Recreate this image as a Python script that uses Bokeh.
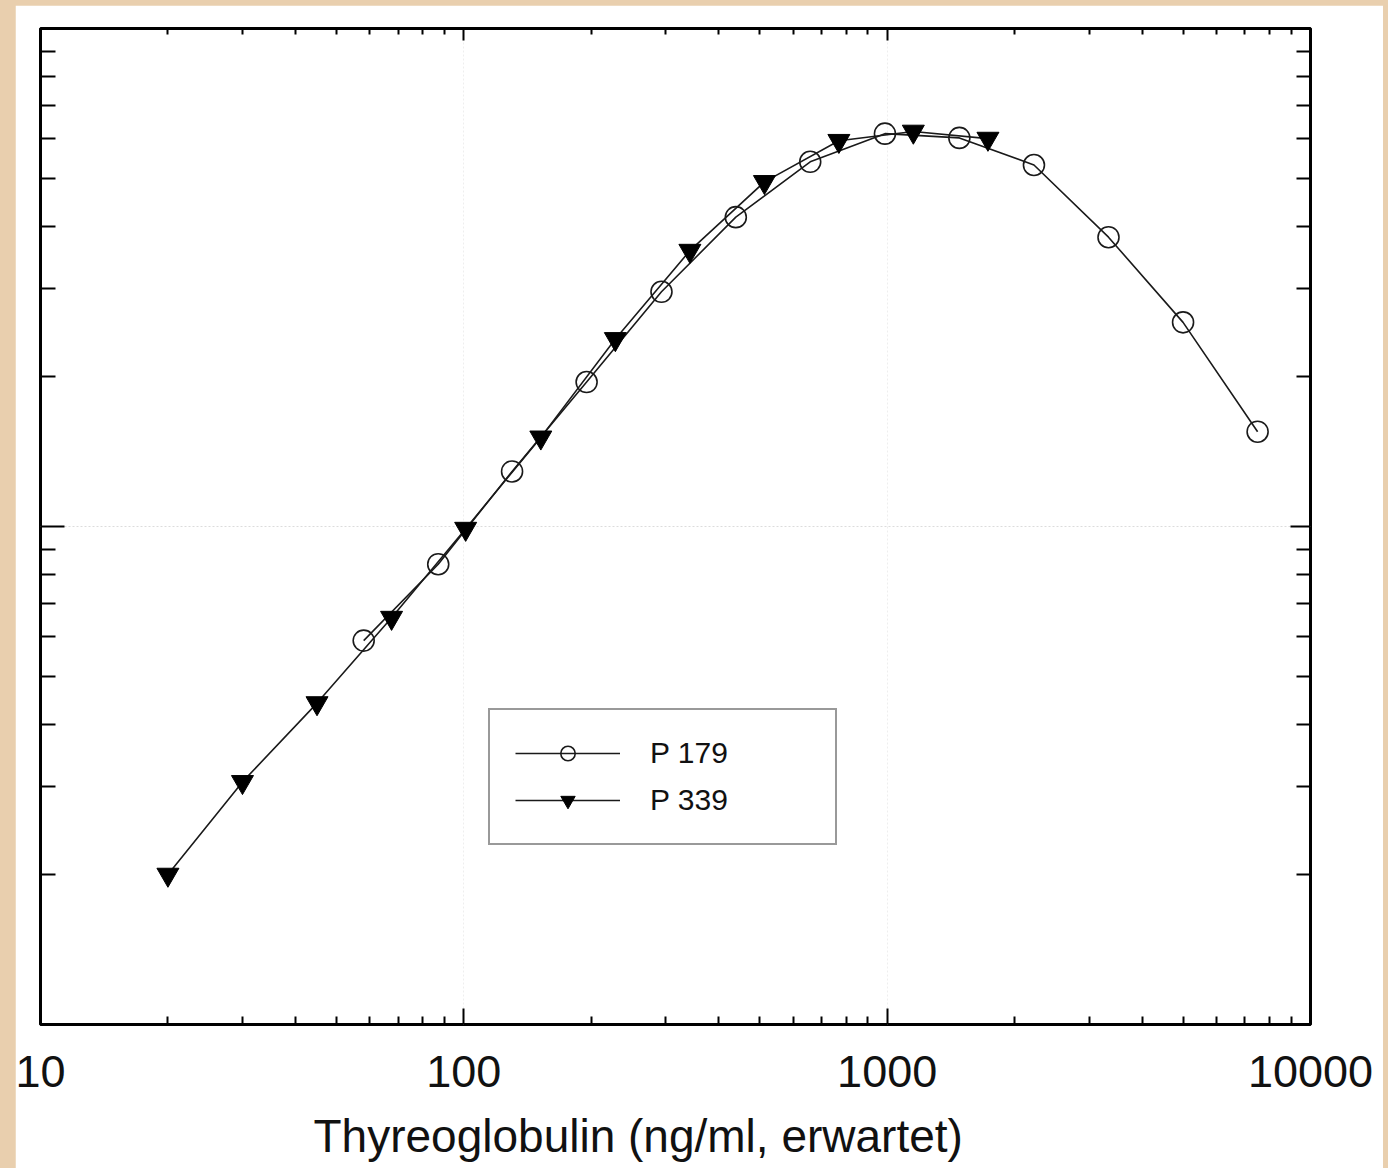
from bokeh.plotting import figure
from bokeh.layouts import column
from bokeh.models import (FixedTicker, Range1d, LogAxis, CustomJSTickFormatter,
                          NumeralTickFormatter, Legend, LegendItem, Title)
from bokeh.embed import file_html
from bokeh.resources import INLINE

# ---- data ----
tg_p179 = [58, 87, 130, 195, 293, 439, 658, 988, 1481, 2222, 3333, 5000, 7500]
sig_p179 = [5.9, 8.4, 12.9, 19.5, 29.6, 41.8, 54.0, 61.5, 60.3, 53.2, 38.1, 25.7, 15.5]
tg_p339 = [20, 30, 45, 67.5, 101, 152, 228, 342, 513, 769, 1153, 1730]
sig_p339 = [2.0, 3.07, 4.42, 6.56, 9.9, 15.1, 23.8, 35.8, 49.2, 59.5, 62.1, 60.1]

x_major = [10, 100, 1000, 10000]
y_major = [1, 10, 100]
x_minor = [k * 10 ** e for e in range(1, 4) for k in range(2, 10)]
y_minor = [k * 10 ** e for e in range(0, 2) for k in range(2, 10)]
x_title = "Thyreoglobulin (ng/ml, erwartet)"
labels = ["P 179", "P 339"]

FONT = "Liberation Sans"
BEIGE = "#E9CFAE"

p = figure(frame_width=1270, frame_height=996,
           x_axis_type="log", y_axis_type="log",
           x_range=Range1d(10, 10000), y_range=Range1d(1, 100),
           output_backend="svg", toolbar_location=None,
           min_border_left=25, min_border_right=73, min_border_top=23,
           min_border_bottom=150,
           background_fill_color="white", border_fill_color="white",
           outline_line_color="black", outline_line_width=3)
p.margin = (5, 5, 0, 15)

# grid: faint lines at the decades
p.xgrid.grid_line_color = "#eeeeee"
p.xgrid.grid_line_dash = "2 2"
p.ygrid.grid_line_color = "#dcdcdc"
p.ygrid.grid_line_dash = "2 2"
p.xgrid.ticker = FixedTicker(ticks=[100, 1000])
p.ygrid.ticker = FixedTicker(ticks=[10])

xt = FixedTicker(ticks=x_major, minor_ticks=x_minor)
yt = FixedTicker(ticks=y_major, minor_ticks=y_minor)
blank = CustomJSTickFormatter(code="return ''")

xa = p.xaxis[0]
xa.ticker = xt
xa.formatter = NumeralTickFormatter(format="0")
xa.major_tick_in = 16
xa.major_tick_out = 0
xa.minor_tick_in = 8
xa.minor_tick_out = 0
xa.major_tick_line_width = 2
xa.minor_tick_line_width = 2
xa.axis_line_color = None
xa.major_label_text_font = FONT
xa.major_label_text_font_size = "45px"
xa.major_label_text_color = "#111111"
xa.major_label_standoff = 31

ya = p.yaxis[0]
ya.ticker = yt
ya.formatter = blank
ya.major_tick_in = 24
ya.major_tick_out = 0
ya.minor_tick_in = 15
ya.minor_tick_out = 0
ya.major_tick_line_width = 2
ya.minor_tick_line_width = 2
ya.axis_line_color = None
ya.major_label_standoff = 0

top = LogAxis(ticker=xt, formatter=blank, major_tick_in=12, major_tick_out=0,
              minor_tick_in=6, minor_tick_out=0, major_tick_line_width=2,
              minor_tick_line_width=2, axis_line_color=None, major_label_standoff=0)
right = LogAxis(ticker=yt, formatter=blank, major_tick_in=20, major_tick_out=0,
                minor_tick_in=14, minor_tick_out=0, major_tick_line_width=2,
                minor_tick_line_width=2, axis_line_color=None, major_label_standoff=0)
p.add_layout(top, "above")
p.add_layout(right, "right")

# x-axis title, slightly left of centre as in the scan
p.add_layout(Title(text=x_title, align="left", offset=273, standoff=37,
                   text_font=FONT, text_font_size="46px", text_font_style="normal",
                   text_color="#111111"), "below")

# ---- series ----
l1 = p.line(tg_p179, sig_p179, line_color="#1a1a1a", line_width=1.6)
s1 = p.scatter(tg_p179, sig_p179, marker="circle", size=21, fill_color=None,
               line_color="#1a1a1a", line_width=1.6)
l2 = p.line(tg_p339, sig_p339, line_color="#1a1a1a", line_width=1.6)
s2 = p.scatter(tg_p339, sig_p339, marker="inverted_triangle", size=22,
               fill_color="black", line_color="black", line_width=1)

legend = Legend(items=[LegendItem(label=labels[0], renderers=[l1, s1]),
                       LegendItem(label=labels[1], renderers=[l2, s2])],
                location=(448, 179), orientation="vertical",
                border_line_color="#333333", border_line_width=2,
                background_fill_color="white", background_fill_alpha=1,
                padding=25, spacing=11, margin=0,
                glyph_width=105, glyph_height=36, label_height=36,
                label_width=160, label_standoff=30,
                label_text_font=FONT, label_text_font_size="30px",
                label_text_color="#111111")
p.add_layout(legend)

page = column(p, styles={"background-color": BEIGE})

open("out.html", "w").write(file_html(page, INLINE))
